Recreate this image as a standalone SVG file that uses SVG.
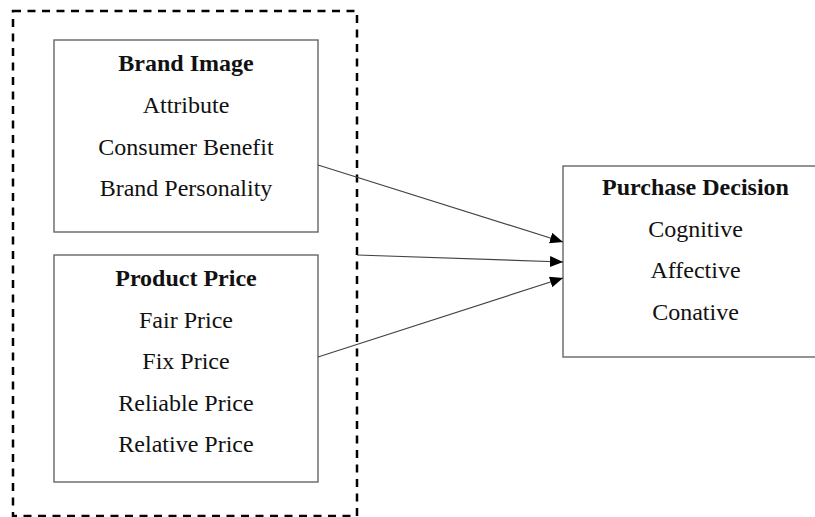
<svg xmlns="http://www.w3.org/2000/svg" width="815" height="517" viewBox="0 0 815 517">
<style>
.box{fill:#fff;stroke:#666;stroke-width:1.4}
.t{font-family:"Liberation Serif","Times New Roman",serif;font-size:24px;fill:#111;text-anchor:middle}
.b{font-weight:bold}
.conn{stroke:#444;stroke-width:1.2;fill:none;marker-end:url(#ah)}
</style>
<defs>
<marker id="ah" viewBox="0 0 13 11" refX="13" refY="5.5" markerWidth="13" markerHeight="11" markerUnits="userSpaceOnUse" orient="auto">
<path d="M0,0 L13,5.5 L0,11 Z" fill="#000"/>
</marker>
</defs>
<rect id="group-boundary" x="13" y="11" width="344" height="505" fill="none" stroke="#000" stroke-width="2.5" stroke-dasharray="8,6.5"/>
<g id="brand-image">
<rect class="box" x="54" y="40" width="264" height="192"/>
<text class="t b" x="186" y="71">Brand Image</text>
<text class="t" x="186" y="113">Attribute</text>
<text class="t" x="186" y="155">Consumer Benefit</text>
<text class="t" x="186" y="196">Brand Personality</text>
</g>
<g id="product-price">
<rect class="box" x="54" y="255" width="264" height="227"/>
<text class="t b" x="186" y="286">Product Price</text>
<text class="t" x="186" y="328">Fair Price</text>
<text class="t" x="186" y="369">Fix Price</text>
<text class="t" x="186" y="411">Reliable Price</text>
<text class="t" x="186" y="452">Relative Price</text>
</g>
<g id="purchase-decision">
<rect class="box" x="563" y="166" width="265" height="191"/>
<text class="t b" x="695.5" y="195">Purchase Decision</text>
<text class="t" x="695.5" y="237">Cognitive</text>
<text class="t" x="695.5" y="278">Affective</text>
<text class="t" x="695.5" y="320">Conative</text>
</g>
<g id="connectors">
<line class="conn" x1="318" y1="165" x2="563" y2="242"/>
<line class="conn" x1="357" y1="255" x2="563" y2="262"/>
<line class="conn" x1="318" y1="357" x2="563" y2="278"/>
</g>
</svg>
